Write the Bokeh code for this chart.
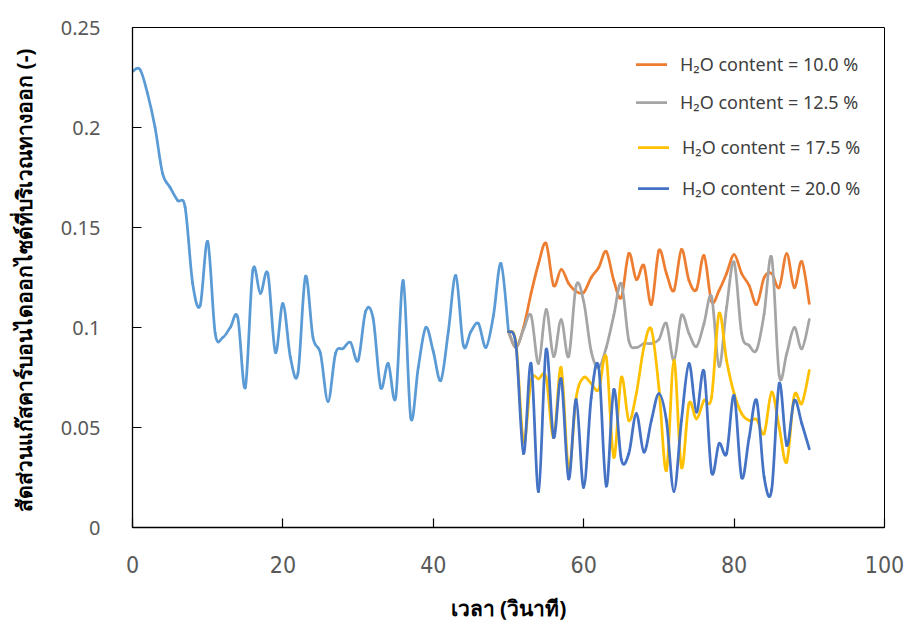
import numpy as np
from bokeh.plotting import figure
from bokeh.models import Range1d, FixedTicker, Legend, LegendItem
from bokeh.embed import file_html
from bokeh.resources import INLINE

# Outlet CO2 fraction before the water feed starts (0-50 s)
time_base = list(range(0, 51))
co2_base = [
    0.228, 0.229, 0.217, 0.200, 0.177, 0.170, 0.1635, 0.160, 0.122, 0.111,
    0.143, 0.097, 0.095, 0.100, 0.105, 0.070, 0.1285, 0.117, 0.127, 0.0875,
    0.112, 0.085, 0.077, 0.1255, 0.095, 0.087, 0.063, 0.087, 0.0895, 0.0925,
    0.0835, 0.108, 0.1045, 0.070, 0.082, 0.065, 0.1235, 0.055, 0.080, 0.100,
    0.088, 0.0735, 0.098, 0.126, 0.091, 0.098, 0.102, 0.090, 0.106, 0.132,
    0.098,
]

# Outlet CO2 fraction for each H2O content (50-90 s)
time_h2o = list(range(50, 91))
co2_h2o_100 = [
    0.098, 0.090, 0.100, 0.117, 0.132, 0.142, 0.121, 0.129, 0.122, 0.118,
    0.1175, 0.125, 0.130, 0.138, 0.1235, 0.115, 0.137, 0.124, 0.131, 0.1115,
    0.1385, 0.127, 0.1185, 0.139, 0.1235, 0.119, 0.136, 0.113, 0.1185, 0.127,
    0.1365, 0.127, 0.121, 0.1115, 0.125, 0.127, 0.120, 0.137, 0.120, 0.133,
    0.112,
]
co2_h2o_125 = [
    0.098, 0.090, 0.099, 0.106, 0.082, 0.109, 0.0855, 0.104, 0.0855, 0.121,
    0.113, 0.088, 0.080, 0.090, 0.106, 0.122, 0.0935, 0.090, 0.092, 0.092,
    0.094, 0.102, 0.0835, 0.106, 0.097, 0.0905, 0.102, 0.1155, 0.0805, 0.110,
    0.1327, 0.097, 0.091, 0.0888, 0.107, 0.135, 0.076, 0.087, 0.100, 0.0893,
    0.104,
]
co2_h2o_175 = [
    0.098, 0.092, 0.0427, 0.0735, 0.0743, 0.075, 0.045, 0.080, 0.029, 0.065,
    0.075, 0.072, 0.069, 0.085, 0.035, 0.075, 0.0535, 0.067, 0.090, 0.099,
    0.070, 0.0285, 0.0835, 0.030, 0.062, 0.0543, 0.0635, 0.065, 0.107, 0.0835,
    0.067, 0.057, 0.0535, 0.054, 0.047, 0.0677, 0.050, 0.0327, 0.066, 0.062,
    0.0785,
]
co2_h2o_200 = [
    0.098, 0.091, 0.037, 0.082, 0.018, 0.089, 0.045, 0.0743, 0.0243, 0.064,
    0.020, 0.065, 0.080, 0.0207, 0.069, 0.034, 0.037, 0.057, 0.0377, 0.0535,
    0.067, 0.0535, 0.018, 0.0535, 0.082, 0.0577, 0.078, 0.0277, 0.042, 0.037,
    0.066, 0.025, 0.045, 0.0635, 0.025, 0.019, 0.072, 0.041, 0.0635, 0.052,
    0.0393,
]

series_labels = [
    "H\u2082O content = 10.0 %",
    "H\u2082O content = 12.5 %",
    "H\u2082O content = 17.5 %",
    "H\u2082O content = 20.0 %",
]
series_colors = ["#ED7D31", "#A5A5A5", "#FFC000", "#4472C4"]
base_color = "#5B9BD5"

x_ticks = [0, 20, 40, 60, 80, 100]
y_ticks = [0, 0.05, 0.1, 0.15, 0.2, 0.25]
y_tick_labels = ["0", "0.05", "0.1", "0.15", "0.2", "0.25"]

x_title = "เวลา (วินาที)"
y_title = "สัดส่วนแก๊สคาร์บอนไดออกไซด์ที่บริเวณทางออก  (-)"


def smooth_segments(xs, ys):
    """Cubic Bezier pieces through every point (Catmull-Rom style smoothing)."""
    x = np.asarray(xs, dtype=float)
    y = np.asarray(ys, dtype=float)
    n = len(x)
    xp = np.concatenate([[x[0]], x, [x[-1]]])
    yp = np.concatenate([[y[0]], y, [y[-1]]])
    return dict(
        x0=x[:-1], y0=y[:-1], x1=x[1:], y1=y[1:],
        cx0=x[:-1] + (xp[2:n + 1] - xp[0:n - 1]) / 6.0,
        cy0=y[:-1] + (yp[2:n + 1] - yp[0:n - 1]) / 6.0,
        cx1=x[1:] - (xp[3:n + 2] - xp[1:n]) / 6.0,
        cy1=y[1:] - (yp[3:n + 2] - yp[1:n]) / 6.0,
    )


p = figure(
    width=906, height=628,
    x_range=Range1d(0, 100), y_range=Range1d(0, 0.25),
    output_backend="svg", toolbar_location=None,
    min_border_left=132, min_border_right=22,
    min_border_top=27, min_border_bottom=101,
)
p.background_fill_color = "white"
p.border_fill_color = "white"
p.outline_line_color = "black"
p.outline_line_width = 1
p.xgrid.visible = False
p.ygrid.visible = False

LINE_W = 2.75

p.bezier(line_color=base_color, line_width=LINE_W, line_cap="round",
         **smooth_segments(time_base, co2_base))

renderers = []
for ys, col in zip([co2_h2o_100, co2_h2o_125, co2_h2o_175, co2_h2o_200], series_colors):
    r = p.bezier(line_color=col, line_width=LINE_W, line_cap="round",
                 **smooth_segments(time_h2o, ys))
    renderers.append(r)

# axes
for ax in (p.xaxis[0], p.yaxis[0]):
    ax.axis_line_color = "black"
    ax.axis_line_width = 1.3
    ax.major_tick_line_color = "black"
    ax.major_tick_line_width = 1.2
    ax.major_tick_in = 9
    ax.major_tick_out = 0
    ax.minor_tick_line_color = None
    ax.major_label_text_color = "#595959"
    ax.axis_label_text_color = "black"
    ax.axis_label_text_font_style = "bold"
    ax.axis_label_text_font = "Noto Sans"

p.xaxis.ticker = FixedTicker(ticks=x_ticks)
p.xaxis.major_label_text_font = "DejaVu Sans Condensed"
p.xaxis.major_label_text_font_size = "23px"
p.xaxis.major_label_standoff = 28
p.xaxis.axis_label = x_title
p.xaxis.axis_label_text_font_size = "21px"
p.xaxis.axis_label_standoff = 18

p.yaxis.ticker = FixedTicker(ticks=y_ticks)
p.yaxis.major_label_overrides = {t: s for t, s in zip(y_ticks, y_tick_labels)}
p.yaxis.major_label_text_font = "Noto Sans"
p.yaxis.major_label_text_font_size = "20px"
p.yaxis.major_label_standoff = 32
p.yaxis.axis_label = y_title
p.yaxis.axis_label_text_font_size = "21px"
p.yaxis.axis_label_standoff = 20

# one legend box per entry so each row can sit at its own height
legend_spots = [(504, 451), (504, 413), (506, 368), (506, 327)]
for r, lab, spot in zip(renderers, series_labels, legend_spots):
    lg = Legend(items=[LegendItem(label=lab, renderers=[r])], location=spot)
    lg.background_fill_alpha = 0
    lg.border_line_alpha = 0
    lg.padding = 0
    lg.margin = 0
    lg.glyph_width = 31
    lg.glyph_height = 22
    lg.label_standoff = 13
    lg.label_text_font = "Noto Sans"
    lg.label_text_font_size = "18px"
    lg.label_text_color = "#404040"
    lg.label_height = 22
    p.add_layout(lg, "center")

open("out.html", "w").write(file_html(p, INLINE))
